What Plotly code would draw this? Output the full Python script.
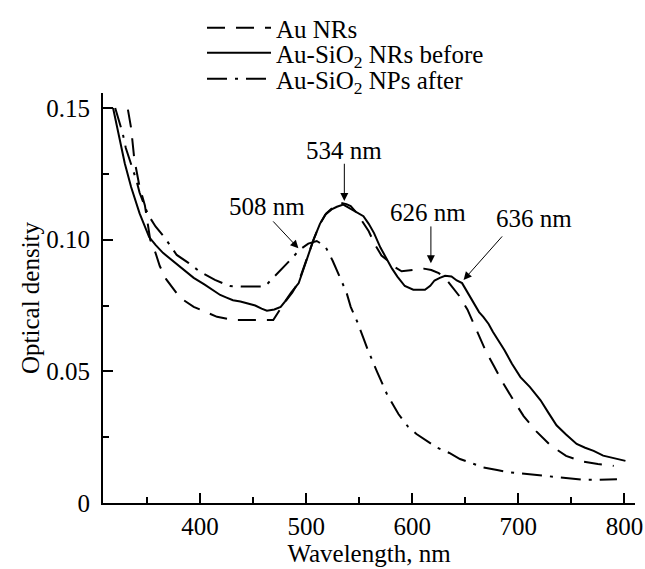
import plotly.graph_objects as go

# ---------------- data ----------------
wl_before = [318, 323, 329, 335, 343, 352, 358, 365, 374, 384, 394, 404, 412, 419, 425, 431, 438, 444,
             452, 458, 463, 470, 476, 480, 486, 493, 500, 507, 513, 518, 524, 529, 535, 541, 547, 554,
             559, 564, 570, 576, 581, 586, 593, 601, 612, 617, 621, 626, 631, 637, 642, 647, 652, 658,
             663, 667, 672, 676, 681, 687, 694, 702, 711, 721, 728, 736, 745, 755, 763, 771, 780, 790, 801]
od_before = [0.150, 0.141, 0.129, 0.120, 0.110, 0.101, 0.098, 0.095, 0.092, 0.089, 0.0855, 0.083, 0.081,
             0.079, 0.078, 0.077, 0.0765, 0.0758, 0.075, 0.0738, 0.073, 0.0735, 0.0745, 0.0765, 0.080,
             0.0835, 0.092, 0.100, 0.106, 0.1095, 0.1115, 0.1125, 0.1133, 0.112, 0.1105, 0.1089, 0.106,
             0.1025, 0.097, 0.0924, 0.089, 0.086, 0.0824, 0.081, 0.081, 0.0825, 0.0845, 0.0855, 0.0863,
             0.086, 0.0845, 0.0835, 0.080, 0.0758, 0.0725, 0.0707, 0.068, 0.065, 0.0618, 0.058, 0.0529,
             0.0478, 0.044, 0.039, 0.0345, 0.0295, 0.026, 0.0224, 0.021, 0.0198, 0.018, 0.017, 0.016]

wl_nrs = [332, 335, 338, 343, 348, 353, 358, 362, 368, 381, 394, 416, 431, 452, 469, 479, 487, 493, 500,
          507, 513, 519, 526, 532, 538, 542, 548, 553, 559, 565, 571, 577, 584, 590, 600, 611, 618, 625,
          632, 638, 644, 652, 661, 669, 677, 685, 694, 705, 717, 730, 745, 760, 775, 790]
od_nrs = [0.1494, 0.1424, 0.1306, 0.120, 0.113, 0.100, 0.095, 0.090, 0.085, 0.078, 0.0745, 0.0707, 0.0695,
          0.0695, 0.0695, 0.0758, 0.080, 0.084, 0.092, 0.100, 0.106, 0.110, 0.1125, 0.114, 0.1135, 0.1128,
          0.110, 0.107, 0.1032, 0.098, 0.094, 0.092, 0.0895, 0.088, 0.0885, 0.089, 0.0885, 0.0873, 0.085,
          0.082, 0.0788, 0.0735, 0.0652, 0.058, 0.052, 0.046, 0.040, 0.033, 0.0272, 0.022, 0.0179, 0.0158,
          0.0148, 0.0141]

wl_after = [320, 324, 327, 330, 336, 340, 343, 351, 358, 367, 378, 389, 400, 414, 428, 440, 461, 472, 482,
            494, 502, 510, 518, 525, 532, 538, 542, 548, 554, 558, 567, 576, 587, 596, 604, 614, 623, 635,
            645, 657, 667, 680, 691, 703, 715, 726, 737, 750, 762, 775, 793]
od_after = [0.150, 0.145, 0.1405, 0.1348, 0.1278, 0.1225, 0.1178, 0.1095, 0.105, 0.1006, 0.0942, 0.0912,
            0.0878, 0.0847, 0.0824, 0.0822, 0.0822, 0.0866, 0.091, 0.0962, 0.0985, 0.0995, 0.0975, 0.092,
            0.0855, 0.080, 0.0745, 0.069, 0.0626, 0.0583, 0.0497, 0.0415, 0.0338, 0.029, 0.0262, 0.0235,
            0.0211, 0.019, 0.0167, 0.015, 0.0135, 0.0125, 0.0117, 0.0112, 0.0107, 0.0102, 0.0097, 0.0092,
            0.0088, 0.0088, 0.009]

x_ticks = [400, 500, 600, 700, 800]
y_ticks = [0, 0.05, 0.10, 0.15]
y_tick_text = ["0", "0.05", "0.10", "0.15"]

# peak labels: text, text position, arrow tail, arrow tip
peak_labels = ["508 nm", "534 nm", "626 nm", "636 nm"]
label_pos = [(463, 0.1125), (536, 0.1338), (615, 0.1104), (715, 0.1079)]
arrow_tail = [(467.6, 0.1075), (536, 0.1294), (617.6, 0.1056), (686, 0.1018)]
arrow_tip = [(492.7, 0.0967), (536, 0.1147), (617.6, 0.0910), (648.4, 0.0847)]

FONT = "Liberation Serif"
FS = 25
W, H = 645, 569
ML, MR, MT, MB = 103, 10, 93, 66

fig = go.Figure()
fig.add_trace(go.Scatter(x=wl_nrs, y=od_nrs, mode="lines", name="Au NRs", legend="legend",
                         line=dict(color="black", width=2, dash="18px,11px")))
fig.add_trace(go.Scatter(x=wl_before, y=od_before, mode="lines", name="Au-SiO<sub>2</sub> NRs before",
                         legend="legend2", line=dict(color="black", width=2)))
fig.add_trace(go.Scatter(x=wl_after, y=od_after, mode="lines", name="Au-SiO<sub>2</sub> NPs after",
                         legend="legend3", line=dict(color="black", width=2, dash="20px,8px,3px,8px")))

annotations = []
for txt, (tx, ty), (ax, ay), (px, py) in zip(peak_labels, label_pos, arrow_tail, arrow_tip):
    annotations.append(dict(x=tx, y=ty, xref="x", yref="y", text=txt, showarrow=False,
                            font=dict(family=FONT, size=FS, color="black")))
    annotations.append(dict(x=px, y=py, ax=ax, ay=ay, xref="x", yref="y", axref="x", ayref="y",
                            text="", showarrow=True, arrowhead=2, arrowsize=1.6, arrowwidth=1,
                            arrowcolor="black", standoff=0))
# y-axis title
plot_w = W - ML - MR
annotations.append(dict(x=(30 - ML) / plot_w, y=0.5, xref="paper", yref="paper",
                        text="Optical density", textangle=-90, showarrow=False,
                        xanchor="center", yanchor="middle",
                        font=dict(family=FONT, size=FS, color="black")))


def legend_box(row_y):
    return dict(xref="container", yref="container", x=202 / W, y=1 - row_y / H,
                xanchor="left", yanchor="middle", bgcolor="rgba(0,0,0,0)",
                font=dict(family=FONT, size=FS, color="black"),
                itemwidth=64, tracegroupgap=0)


fig.update_layout(
    width=W, height=H,
    margin=dict(l=ML, r=MR, t=MT, b=MB, autoexpand=False),
    paper_bgcolor="white", plot_bgcolor="white",
    font=dict(family=FONT, size=FS, color="black"),
    showlegend=True,
    legend=legend_box(28),
    legend2=legend_box(53),
    legend3=legend_box(79),
    annotations=annotations,
)
fig.update_xaxes(range=[308.5, 810], showline=True, linecolor="black", linewidth=2,
                 showgrid=False, zeroline=False, tickvals=x_ticks, ticks="inside",
                 ticklen=10, tickwidth=1.5, tickcolor="black",
                 minor=dict(dtick=50, tick0=0, ticks="inside", ticklen=6, tickwidth=1.5,
                            tickcolor="black", showgrid=False),
                 ticklabelstandoff=0, automargin=True,
                 title=dict(text="Wavelength, nm", standoff=2,
                            font=dict(family=FONT, size=FS, color="black")))
fig.update_yaxes(range=[0, 0.1557], showline=True, linecolor="black", linewidth=2,
                 showgrid=False, zeroline=False, tickvals=y_ticks, ticktext=y_tick_text,
                 ticks="inside", ticklen=10, tickwidth=1.5, tickcolor="black",
                 minor=dict(tickvals=[0.025, 0.075, 0.125], ticks="inside", ticklen=6,
                            tickwidth=1.5, tickcolor="black", showgrid=False),
                 ticklabelstandoff=6, automargin=False)

fig.write_html("out.html", config={"displayModeBar": False},
               post_script="document.body.style.margin='0';document.body.style.overflow='hidden';")
